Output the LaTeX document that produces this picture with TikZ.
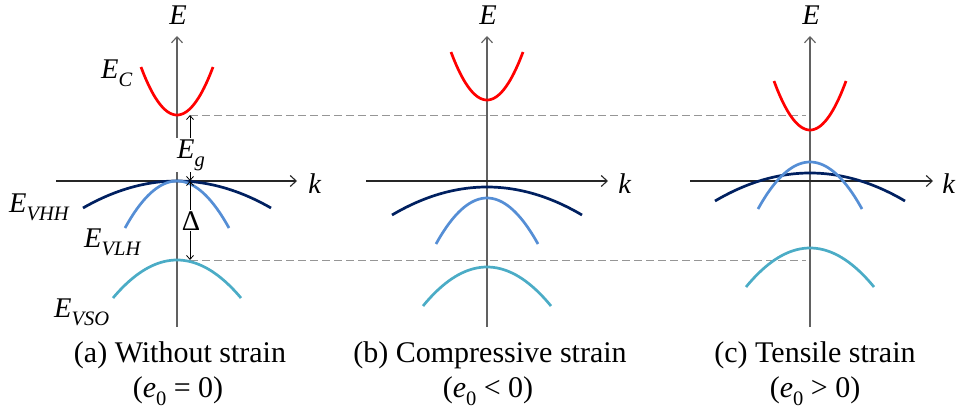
\documentclass[tikz,border=0pt]{standalone}
\usepackage{fontspec}
\setmainfont{Liberation Serif}
\usetikzlibrary{arrows.meta}
\definecolor{cbred}{RGB}{255,0,0}
\definecolor{hhcol}{RGB}{0,32,96}
\definecolor{lhcol}{RGB}{85,142,213}
\definecolor{socol}{RGB}{75,172,198}
\definecolor{dashcol}{RGB}{150,150,150}
\newcommand\sbs[1]{\raisebox{-0.3em}{\fontsize{20.5}{20.5}\selectfont\itshape #1}}
\newcommand\sbn[1]{\raisebox{-0.28em}{\fontsize{20.5}{20.5}\selectfont #1}}
% #1 style, #2 centre x, #3 half width, #4 apex y, #5 drop at ends (pixels, down positive)
\newcommand\bandcurve[5]{\draw[#1] plot[domain=-#3:#3,samples=41,variable=\t,smooth] ({#2+\t},{#4+#5*(\t/#3)*(\t/#3)});}
\begin{document}
\begin{tikzpicture}[x=1pt,y=-1pt,
  band/.style={line width=2.7pt},
  ec/.style={band,draw=cbred},
  hh/.style={band,draw=hhcol},
  lh/.style={band,draw=lhcol},
  so/.style={band,draw=socol},
  eaxis/.style={draw=black!62,line width=1.1pt,-{Straight Barb[length=6pt,width=11pt]}},
  kaxis/.style={draw=black!85,line width=1.1pt,-{Straight Barb[length=6pt,width=11pt]}},
  guide/.style={draw=dashcol,line width=0.9pt,dash pattern=on 8pt off 4pt},
  gap/.style={draw=black,line width=0.8pt,{Straight Barb[length=4pt,width=7pt]}-{Straight Barb[length=4pt,width=7pt]}},
  lbl/.style={font=\fontsize{28.5}{32}\selectfont,inner sep=0pt},
  captext/.style={font=\fontsize{30}{34}\selectfont,inner sep=0pt,anchor=base},
]
\useasboundingbox (0,0) rectangle (966,412);

% ---------- axes ----------
\foreach \p/\cx/\kl/\kr/\kx in {a/177/56/297/315, b/487/366/608/625, c/810/690/933/949}{
  \coordinate (\p-bot) at (\cx,327);
  \coordinate (\p-top) at (\cx,36);
  \coordinate (\p-kl) at (\kl,181);
  \coordinate (\p-kr) at (\kr,181);
  \draw[eaxis] (\p-bot) -- (\p-top);
  \draw[kaxis] (\p-kl) -- (\p-kr);
  \node[lbl,anchor=base] (\p-E) at (\cx+1,25) {\textit{E}};
  \node[lbl,anchor=base] (\p-k) at (\kx,193) {\textit{k}};
}

% ---------- dashed reference levels ----------
\coordinate (up-l) at (190,115);
\coordinate (up-r) at (806,115);
\coordinate (lo-l) at (190,260);
\coordinate (lo-r) at (806,260);
\draw[guide] (up-l) -- (up-r);
\draw[guide] (lo-l) -- (lo-r);

% ---------- panel (a) ----------
\bandcurve{ec}{177}{36}{115}{-48}
\bandcurve{hh}{177}{94}{181}{27}
\bandcurve{lh}{177}{52}{181}{47}
\bandcurve{so}{177}{64}{260}{38}

% ---------- panel (b) ----------
\bandcurve{ec}{487}{36}{100}{-48}
\bandcurve{hh}{487}{95}{187}{28}
\bandcurve{lh}{487}{51}{198}{46}
\bandcurve{so}{487}{64}{267}{39}

% ---------- panel (c) ----------
\bandcurve{ec}{810}{36}{130}{-49}
\bandcurve{hh}{810}{95}{173}{28}
\bandcurve{lh}{810}{52}{162}{47}
\bandcurve{so}{810}{64}{248}{39}

% ---------- gap arrows ----------
\coordinate (eg-t) at (190,115);
\coordinate (eg-b) at (190,181);
\coordinate (d-b) at (190,260);
\draw[gap] (eg-t) -- (eg-b);
\draw[gap] (eg-b) -- (d-b);
\node[lbl,anchor=base west,fill=white,inner sep=1pt] (eglbl) at (176,158) {\textit{E}\sbs{g}};
\node[lbl,anchor=base,fill=white,inner sep=1pt] (dlbl) at (191,230) {Δ};

% ---------- band labels ----------
\node[lbl,anchor=base west] (lec) at (101,78) {\textit{E}\sbs{C}};
\node[lbl,anchor=base west] (lhh) at (9,212) {\textit{E}\sbs{VHH}};
\node[lbl,anchor=base west] (llh) at (84,247) {\textit{E}\sbs{VLH}};
\node[lbl,anchor=base west] (lso) at (54,317) {\textit{E}\sbs{VSO}};

% ---------- captions ----------
\node[captext] (capa) at (180,362) {(a) Without strain};
\node[captext] (capa2) at (178,397) {(\textit{e}\sbn{0} = 0)};
\node[captext] (capb) at (490,362) {(b) Compressive strain};
\node[captext] (capb2) at (488,397) {(\textit{e}\sbn{0} < 0)};
\node[captext] (capc) at (815,362) {(c) Tensile strain};
\node[captext] (capc2) at (815,397) {(\textit{e}\sbn{0} > 0)};
\end{tikzpicture}
\end{document}
